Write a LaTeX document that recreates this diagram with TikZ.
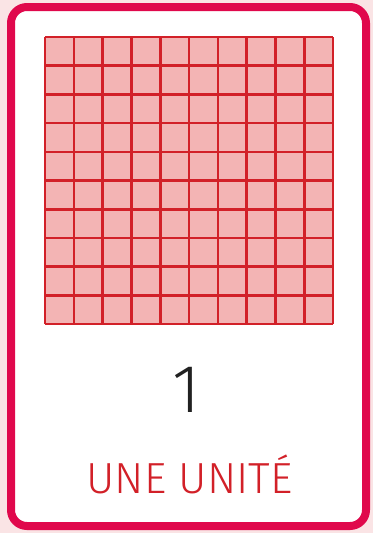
\documentclass[tikz,border=0pt]{standalone}
\usepackage{fontspec}
\setmainfont{Fira Sans}
\newfontfamily\lightfont{Fira Sans Light}
\usetikzlibrary{positioning}
\definecolor{cardred}{RGB}{224,8,76}
\definecolor{gridred}{RGB}{210,32,40}
\definecolor{cellpink}{RGB}{243,180,180}
\definecolor{backpink}{RGB}{250,228,229}
\tikzset{
  gridline/.style={gridred, line width=2.6pt},
  bignum/.style={font=\lightfont\fontsize{68}{68}\selectfont, text=black!87, anchor=base, inner sep=0pt},
  caption/.style={font=\lightfont\fontsize{43.5}{43.5}\selectfont, text=gridred, anchor=base, inner sep=0pt}
}

\begin{document}
\begin{tikzpicture}[x=1pt, y=-1pt]
  \fill[backpink] (0,0) rectangle (373,533);
  % card
  \draw[cardred, line width=8pt, rounded corners=16pt, fill=white] (11,7) rectangle (366,526);
  % hundred squares
  \fill[cellpink] (45,37) rectangle (333,324);
  \foreach \i in {0,...,10} {
    \draw[gridline] (45+28.8*\i,37) -- (45+28.8*\i,324);
    \draw[gridline] (45,37+28.7*\i) -- (333,37+28.7*\i);
  }
  \node[bignum] (num) at (187,412) {1};
  \node[caption] (label) at (189.5,493) {UNE UNITÉ};
\end{tikzpicture}
\end{document}
